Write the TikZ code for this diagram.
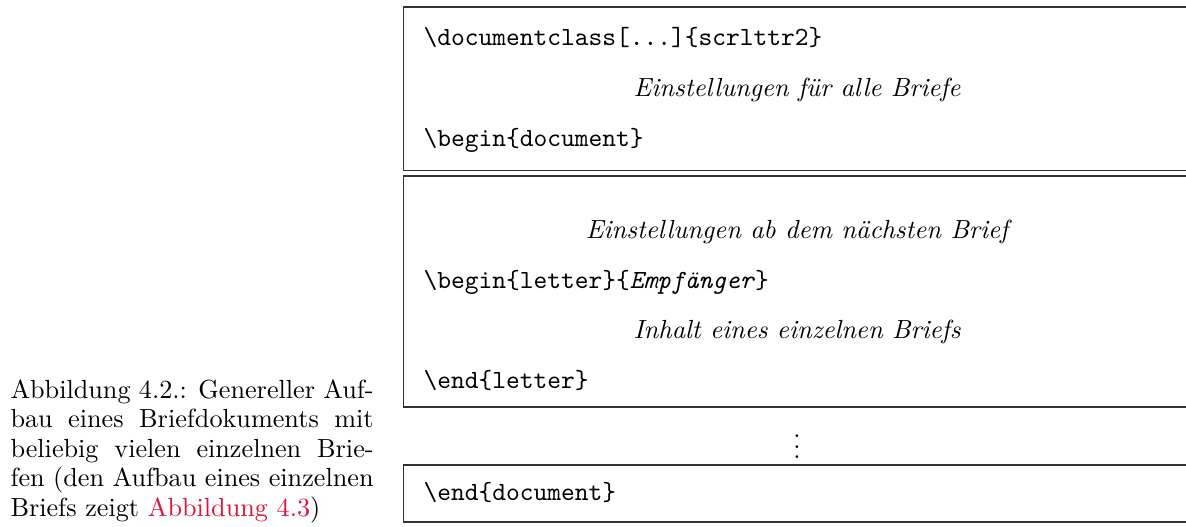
\documentclass[tikz,border=0pt]{standalone}
\usepackage{xcolor}
\usepackage{tikz}
\definecolor{linkred}{RGB}{220,20,60}
\tikzset{
  codeline/.style={anchor=base west, inner sep=0pt, font=\ttfamily},
  setting/.style={anchor=base, inner sep=0pt, font=\itshape},
  sidecaption/.style={anchor=base west, inner sep=0pt, text width=138.6pt, align=justify,
    font=\fontsize{10pt}{11.3pt}\selectfont}
}

\begin{document}
\begin{tikzpicture}
                \clip (0cm, 0cm) rectangle (15.911cm, -7.057cm);
                % Rahmen (rechter Rand liegt ausserhalb)
                \draw[black!80] (5.407cm, -0.094cm) rectangle (15.98cm, -2.281cm);
                \draw[black!80] (5.407cm, -2.361cm) rectangle (15.98cm, -5.460cm);
                \draw[black!80] (5.407cm, -6.238cm) rectangle (15.98cm, -7.003cm);
                % Kopf
                \node[codeline] (docclass) at (5.675cm, -0.617cm) {\textbackslash documentclass[...]\{scrlttr2\}};
                \node[setting] (allletters) at (10.693cm, -1.288cm) {Einstellungen für alle Briefe};
                \node[codeline] (begindoc) at (5.675cm, -1.959cm) {\textbackslash begin\{document\}};
                % ein Brief
                \node[setting] (nextletter) at (10.693cm, -3.193cm) {Einstellungen ab dem nächsten Brief};
                \node[codeline] (beginletter) at (5.675cm, -3.864cm) {\textbackslash begin\{letter\}\{\textit{Empfänger}\}};
                \node[setting] (lettercontent) at (10.693cm, -4.535cm) {Inhalt eines einzelnen Briefs};
                \node[codeline] (endletter) at (5.675cm, -5.206cm) {\textbackslash end\{letter\}};
                \node (moreletters) at (10.693cm, -5.890cm) {$\vdots$};
                % Ende
                \node[codeline] (enddoc) at (5.675cm, -6.720cm) {\textbackslash end\{document\}};
                \node[sidecaption] (caption) at (0.134cm, -5.340cm) {\tolerance=10000 Abbildung 4.2.: Genereller Auf-\linebreak bau eines Briefdokuments mit\linebreak beliebig vielen einzelnen Brie-\linebreak fen (den Aufbau eines einzelnen\linebreak Briefs zeigt \textcolor{linkred}{Abbildung 4.3})};
            \end{tikzpicture}
\end{document}
